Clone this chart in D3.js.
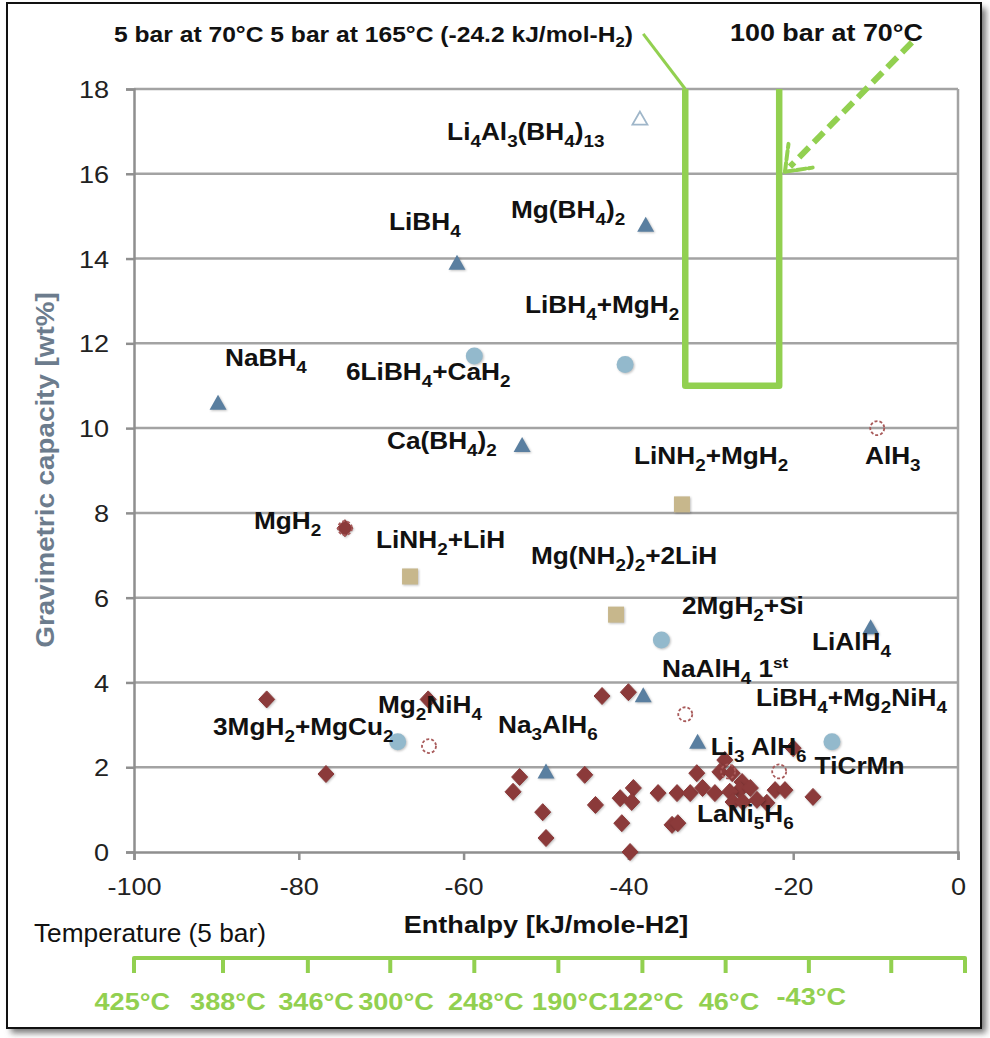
<!DOCTYPE html>
<html><head><meta charset="utf-8">
<script src="https://cdn.jsdelivr.net/npm/d3@7"></script>
<style>
body{margin:0;background:#fff}
svg{display:block}
text{font-family:"Liberation Sans",Arial,Helvetica,sans-serif}
</style>
</head><body>
<svg id="c" width="990" height="1038"></svg>
<script>
// ---------- DATA ----------
const xTicks = [-100, -80, -60, -40, -20, 0];
const yTicks = [0, 2, 4, 6, 8, 10, 12, 14, 16, 18];

// metal hydrides (dark red diamonds) [enthalpy, wt%]
const hydrides = [[-83.9,3.6],[-64.3,3.6],[-76.7,1.84],[-53.2,1.77],[-54.0,1.42],[-50.4,0.94],[-50.0,0.33],
 [-45.3,1.82],[-44.0,1.11],[-43.2,3.68],[-40.0,3.77],[-41.0,1.27],[-39.4,1.51],[-39.6,1.18],[-40.8,0.68],
 [-39.8,0.0],[-36.4,1.39],[-34.1,1.39],[-34.7,0.64],[-34.0,0.68],[-32.5,1.39],[-31.7,1.86],[-31.0,1.51],
 [-29.5,1.39],[-28.3,2.17],[-28.9,1.89],[-27.4,1.86],[-26.2,1.65],[-26.5,1.46],[-25.2,1.51],[-27.7,1.42],
 [-22.2,1.46],[-21.0,1.46],[-17.6,1.30],[-27.3,1.18],[-26.1,1.18],[-23.2,1.16],[-24.4,1.23],[-20.0,2.45],
 [-74.4,7.64]];
// complex hydrides (blue triangles)
const complexHydrides = [[-89.8,10.6],[-60.8,13.9],[-37.9,14.8],[-52.9,9.6],[-10.6,5.3],[-38.2,3.7],[-31.6,2.6],[-50.0,1.9]];
// open triangle
const openTriangles = [[-38.6,17.3]];
// reactive composites (light blue circles)
const composites = [[-58.7,11.7],[-40.4,11.5],[-36.0,5.0],[-68.0,2.6],[-15.3,2.6]];
// amides (tan squares)
const amides = [[-33.5,8.2],[-66.5,6.5],[-41.5,5.6]];
// open dashed markers
const openMarkers = [[-9.8,10.0],[-64.2,2.5],[-33.1,3.25],[-21.7,1.9],[-27.9,1.9],[-74.4,7.64]];

// point labels ("_" = subscript, "^" = superscript)
const labelText = ["Li_4Al_3(BH_4)_13","LiBH_4","Mg(BH_4)_2","LiBH_4+MgH_2","NaBH_4","6LiBH_4+CaH_2",
 "Ca(BH_4)_2","LiNH_2+MgH_2","AlH_3","MgH_2","LiNH_2+LiH","Mg(NH_2)_2+2LiH","2MgH_2+Si","LiAlH_4",
 "NaAlH_4 1^st","LiBH_4+Mg_2NiH_4","Mg_2NiH_4","3MgH_2+MgCu_2","Na_3AlH_6","Li_3 AlH_6","TiCrMn","LaNi_5H_6"];
const labelH = [-62.0,-69.05,-54.25,-52.55,-88.96,-74.27,-69.3,-39.32,-11.29,-85.44,-70.63,-51.82,-33.5,-17.72,
 -35.92,-24.51,-70.39,-90.41,-55.83,-30.0,-17.4,-31.67];
const labelW = [16.79,14.67,14.95,12.71,11.46,11.13,9.5,9.15,9.15,7.62,7.17,6.79,5.61,4.77,
 4.13,3.44,3.28,2.76,2.81,2.28,1.84,0.71];

// target window (enthalpy range and capacity floor)
const targetH = [-33.1, -21.7];
const targetW = [11, 18];

// temperature (5 bar) secondary scale
const tempTickH = [-100,-89.2,-78.9,-68.9,-58.7,-48.5,-38.3,-28.2,-18.1,-8.1,0.85];
const tempLabels = ["425°C","388°C","346°C","300°C","248°C","190°C","122°C","46°C","-43°C"];
const tempLabelH = [-100.2,-88.6,-77.9,-68.2,-57.3,-47.1,-37.9,-27.8,-17.8];

// ---------- CHART ----------
const svg = d3.select('#c');
const x = d3.scaleLinear().domain([-100, 0]).range([134, 958]);
const y = d3.scaleLinear().domain([0, 18]).range([852, 89]);
const SX = 1.13;
const GREEN = '#92d050';

const defs = svg.append('defs');
defs.append('filter').attr('id','blur').attr('x','-5%').attr('y','-5%').attr('width','110%').attr('height','110%')
  .append('feGaussianBlur').attr('stdDeviation', 3);

// frame with shadow
svg.append('rect').attr('x',11).attr('y',8).attr('width',975).attr('height',1025)
  .attr('fill','#777').attr('filter','url(#blur)');
svg.append('rect').attr('x',7).attr('y',3).attr('width',974).attr('height',1025)
  .attr('fill','#fff').attr('stroke','#111').attr('stroke-width',2);

// gridlines
svg.append('g').selectAll('line').data(yTicks.filter(d => d > 0)).join('line')
  .attr('x1', x(-100)).attr('x2', x(0)).attr('y1', d => y(d)).attr('y2', d => y(d))
  .attr('stroke', '#a3a3a3').attr('stroke-width', 2.5);
// right border
svg.append('line').attr('x1', x(0)).attr('x2', x(0)).attr('y1', y(0)).attr('y2', y(18))
  .attr('stroke', '#a3a3a3').attr('stroke-width', 2.5);

// axes
const fmt = d => String(d);
const gy = svg.append('g').attr('transform', `translate(${x(-100)},0)`)
  .call(d3.axisLeft(y).tickValues(yTicks).tickSize(8).tickPadding(14).tickFormat(fmt));
const gx = svg.append('g').attr('transform', `translate(0,${y(0)})`)
  .call(d3.axisBottom(x).tickValues(xTicks).tickSize(8).tickPadding(18).tickFormat(fmt));
[gy, gx].forEach(g => {
  g.select('.domain').attr('stroke', '#8f8f8f').attr('stroke-width', 2.5);
  g.selectAll('.tick line').attr('stroke', '#8f8f8f').attr('stroke-width', 2.5);
  g.selectAll('.tick text').attr('font-size', 24).attr('fill', '#222')
    .attr('font-family', '"Liberation Sans",Arial,sans-serif').attr('transform', `scale(${SX},1)`);
});
gy.selectAll('.tick text').attr('dy', '0.36em');

// axis titles
svg.append('text').attr('transform', `translate(45,470) rotate(-90) scale(1.07,1)`)
  .attr('text-anchor', 'middle').attr('dy', '0.35em').attr('font-size', 26).attr('font-weight', 'bold')
  .attr('fill', '#6c7c8d').text('Gravimetric capacity [wt%]');
svg.append('text').attr('transform', `translate(${x(-50)},933) scale(${SX},1)`)
  .attr('text-anchor', 'middle').attr('font-size', 24).attr('font-weight', 'bold').attr('fill', '#111')
  .text('Enthalpy [kJ/mole-H2]');
svg.append('text').attr('transform', `translate(34,942) scale(1.05,1)`)
  .attr('font-size', 25).attr('fill', '#111').text('Temperature (5 bar)');

// temperature axis
const gt = svg.append('g');
gt.append('line').attr('x1', x(tempTickH[0])).attr('x2', x(tempTickH[tempTickH.length-1]))
  .attr('y1', 958).attr('y2', 958).attr('stroke', GREEN).attr('stroke-width', 4).attr('stroke-linecap','round');
gt.selectAll('line.t').data(tempTickH).join('line').attr('class','t')
  .attr('x1', d => x(d)).attr('x2', d => x(d)).attr('y1', 958).attr('y2', 973)
  .attr('stroke', GREEN).attr('stroke-width', 4);
gt.selectAll('text').data(tempLabels).join('text')
  .attr('transform', (d, i) => `translate(${x(tempLabelH[i])},${d === '-43°C' ? 1005 : 1010}) scale(${SX},1)`)
  .attr('text-anchor', 'middle').attr('font-size', 24).attr('font-weight', 'bold').attr('fill', GREEN)
  .text(d => d);

// target window
const tw = svg.append('g').attr('fill', 'none').attr('stroke', GREEN).attr('stroke-linejoin', 'round');
tw.append('path').attr('stroke-width', 6.5)
  .attr('d', d3.line()([[x(targetH[0]), y(targetW[1])], [x(targetH[0]), y(targetW[0])],
                        [x(targetH[1]), y(targetW[0])], [x(targetH[1]), y(targetW[1])]]));
// thin leader from top-left label
tw.append('line').attr('stroke-width', 3)
  .attr('x1', x(-38.2)).attr('y1', y(19.3)).attr('x2', x(targetH[0])).attr('y2', y(18));
// dashed arrow from "100 bar at 70°C"
const a0 = [x(-5.6), y(19.1)], a1 = [x(-21.0), y(16.05)];
tw.append('line').attr('stroke-width', 6).attr('stroke-dasharray', '14,7')
  .attr('x1', a0[0]).attr('y1', a0[1]).attr('x2', a1[0] + 5).attr('y2', a1[1] - 5);
const ang = Math.atan2(a0[1] - a1[1], a0[0] - a1[0]);
[-0.65, 0.65].forEach(o => {
  tw.append('line').attr('stroke-width', 4).attr('stroke-dasharray', '9,3').attr('stroke-linecap','round')
    .attr('x1', a1[0]).attr('y1', a1[1])
    .attr('x2', a1[0] + 28 * Math.cos(ang + o)).attr('y2', a1[1] + 28 * Math.sin(ang + o));
});

// top annotations
svg.append('text').attr('transform', `translate(114,42) scale(1.12,1)`)
  .attr('font-size', 22).attr('font-weight', 'bold').attr('fill', '#111')
  .call(t => { t.append('tspan').text('5 bar at 70°C 5 bar at 165°C (-24.2 kJ/mol-H');
               t.append('tspan').attr('font-size', 15).attr('dy', 5).text('2');
               t.append('tspan').attr('dy', -5).text(')'); });
svg.append('text').attr('transform', `translate(730,41) scale(1.12,1)`)
  .attr('font-size', 24).attr('font-weight', 'bold').attr('fill', '#111').text('100 bar at 70°C');

// markers
const pts = svg.append('g');
const shadow = 'drop-shadow(1px 1px 1px rgba(0,0,0,0.25))';
pts.selectAll('path.dia').data(hydrides).join('path').attr('class', 'dia')
  .attr('transform', d => `translate(${x(d[0])},${y(d[1])})`)
  .attr('d', 'M0,-8.5L8,0L0,8.5L-8,0Z').attr('fill', '#8b3a3a')
  .attr('stroke', '#8b3a3a').attr('stroke-width', 1).attr('stroke-linejoin', 'round')
  .style('filter', shadow);
pts.selectAll('path.tri').data(complexHydrides).join('path').attr('class', 'tri')
  .attr('transform', d => `translate(${x(d[0])},${y(d[1])})`)
  .attr('d', 'M0,-8L8.5,7L-8.5,7Z').attr('fill', '#5a7fa0').style('filter', shadow);
pts.selectAll('path.otri').data(openTriangles).join('path').attr('class', 'otri')
  .attr('transform', d => `translate(${x(d[0])},${y(d[1])})`)
  .attr('d', 'M0,-7L7.5,6L-7.5,6Z').attr('fill', '#fff').attr('stroke', '#9fb6c9').attr('stroke-width', 1.8);
pts.selectAll('circle.cir').data(composites).join('circle').attr('class', 'cir')
  .attr('cx', d => x(d[0])).attr('cy', d => y(d[1])).attr('r', 8.5).attr('fill', '#93b9cc').style('filter', shadow);
pts.selectAll('rect.sq').data(amides).join('rect').attr('class', 'sq')
  .attr('x', d => x(d[0]) - 8).attr('y', d => y(d[1]) - 8).attr('width', 16).attr('height', 16)
  .attr('fill', '#c7b78c').style('filter', shadow);
pts.selectAll('circle.open').data(openMarkers).join('circle').attr('class', 'open')
  .attr('cx', d => x(d[0])).attr('cy', d => y(d[1])).attr('r', 7)
  .attr('fill', 'none').attr('stroke', '#a85a5a').attr('stroke-width', 1.8).attr('stroke-dasharray', '3,2');

// rich labels
function richText(sel, str, size) {
  const re = /_(\d+)|\^([a-z]+)|([^_^]+)/g;
  let m, shift = 0;
  while ((m = re.exec(str)) !== null) {
    if (m[1] !== undefined) {
      const dy = size * 0.3 - shift; shift = size * 0.3;
      sel.append('tspan').attr('font-size', size * 0.72).attr('dy', dy).text(m[1]);
    } else if (m[2] !== undefined) {
      const dy = -size * 0.4 - shift; shift = -size * 0.4;
      sel.append('tspan').attr('font-size', size * 0.65).attr('dy', dy).text(m[2]);
    } else {
      const dy = -shift; shift = 0;
      sel.append('tspan').attr('dy', dy).text(m[3]);
    }
  }
}
svg.append('g').selectAll('text').data(labelText).join('text')
  .attr('transform', (d, i) => `translate(${x(labelH[i])},${y(labelW[i])}) scale(1.14,1)`)
  .attr('font-size', 23).attr('font-weight', 'bold').attr('fill', '#111')
  .style('white-space', 'pre')
  .each(function(d) { richText(d3.select(this), d, 23); });
</script>
</body></html>
